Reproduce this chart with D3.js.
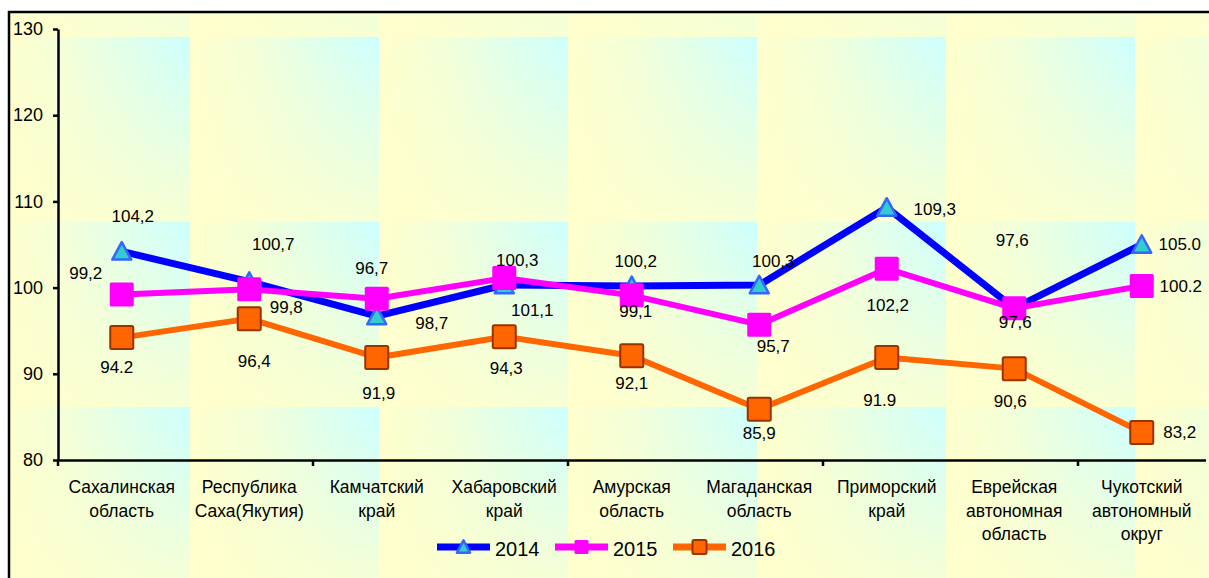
<!DOCTYPE html>
<html>
<head>
<meta charset="utf-8">
<script src="https://cdn.jsdelivr.net/npm/d3@7"></script>
<style>
    html, body { margin: 0; padding: 0; background: #fff; }
    svg { display: block; font-family: "Liberation Sans", Arial, sans-serif; }
</style>
</head>
<body>
<div id="chart"></div>
<script>
    // данные
    const categories = [
        'Сахалинская\nобласть',
        'Республика\nСаха(Якутия)',
        'Камчатский\nкрай',
        'Хабаровский\nкрай',
        'Амурская\nобласть',
        'Магаданская\nобласть',
        'Приморский\nкрай',
        'Еврейская\nавтономная\nобласть',
        'Чукотский\nавтономный\nокруг'
    ];
    const years = ['2014', '2015', '2016'];

    const values2014 = [104.2, 100.7, 96.7, 100.3, 100.2, 100.3, 109.3, 97.6, 105.0];
    const values2015 = [99.2, 99.8, 98.7, 101.1, 99.1, 95.7, 102.2, 97.6, 100.2];
    const values2016 = [94.2, 96.4, 91.9, 94.3, 92.1, 85.9, 91.9, 90.6, 83.2];

    const labels2014 = ['104,2', '100,7', '96,7', '100,3', '100,2', '100,3', '109,3', '97,6', '105.0'];
    const labels2015 = ['99,2', '99,8', '98,7', '101,1', '99,1', '95,7', '102,2', '97,6', '100.2'];
    const labels2016 = ['94.2', '96,4', '91,9', '94,3', '92,1', '85,9', '91.9', '90,6', '83,2'];

    const yTicks = [80, 90, 100, 110, 120, 130];

    // смещения подписей относительно точек
    const nudge2014 = [[11, -35], [24, -38], [-5, -48], [13, -25], [4, -25], [14, -24], [48, 2], [-2, -68], [38, 0]];
    const nudge2015 = [[-36, -21], [37, 18], [55, 24], [28, 32], [4, 16], [14, 21], [1, 36], [1, 14], [39, 0]];
    const nudge2016 = [[-5, 29], [5, 42], [2, 36], [2, 31], [0, 27], [0, 24], [-7, 43], [-4, 32], [38, 0]];

    const W = 1209, H = 578;
    const svg = d3.select('#chart').append('svg')
        .attr('width', W)
        .attr('height', H);

    // фон: плитка с градиентом
    const defs = svg.append('defs');
    const hg = defs.append('linearGradient').attr('id', 'hgrad')
        .attr('x1', 0).attr('y1', 0).attr('x2', 1).attr('y2', 0);
    hg.append('stop').attr('offset', 0).attr('stop-color', '#FFFFCC');
    hg.append('stop').attr('offset', 0.35).attr('stop-color', '#F2FFDA');
    hg.append('stop').attr('offset', 1).attr('stop-color', '#CCFFFF');
    const vg = defs.append('linearGradient').attr('id', 'vgrad')
        .attr('x1', 0).attr('y1', 0).attr('x2', 0).attr('y2', 1);
    vg.append('stop').attr('offset', 0).attr('stop-color', '#FFFFCC').attr('stop-opacity', 0);
    vg.append('stop').attr('offset', 1).attr('stop-color', '#FFFFCC').attr('stop-opacity', 0.85);

    const pat = defs.append('pattern').attr('id', 'tile')
        .attr('patternUnits', 'userSpaceOnUse')
        .attr('x', 1).attr('y', 37)
        .attr('width', 189).attr('height', 185);
    pat.append('rect').attr('width', 189).attr('height', 185).attr('fill', 'url(#hgrad)');
    pat.append('rect').attr('width', 189).attr('height', 185).attr('fill', 'url(#vgrad)');

    svg.append('rect')
        .attr('x', 9).attr('y', 12)
        .attr('width', W + 20).attr('height', H + 20)
        .attr('fill', 'url(#tile)')
        .attr('stroke', '#000')
        .attr('stroke-width', 2.5);

    // шкалы
    const x = d3.scaleBand().domain(categories).range([58, 1205.5]);
    const y = d3.scaleLinear().domain([80, 130]).range([460, 29]);
    const cx = d => x(d) + x.bandwidth() / 2;

    // ось Y
    const yAxis = svg.append('g')
        .attr('transform', 'translate(58,0)')
        .call(d3.axisLeft(y).tickValues(yTicks).tickSize(5).tickSizeOuter(0).tickPadding(10));
    yAxis.selectAll('path, line').attr('stroke', '#000').attr('stroke-width', 2.5);
    yAxis.selectAll('text').attr('font-size', 18).attr('fill', '#000')
        .attr('font-family', '"Liberation Sans", Arial, sans-serif');

    // ось X
    const xAxis = svg.append('g')
        .attr('transform', 'translate(0,460)')
        .call(d3.axisBottom(x).tickSize(0).tickSizeOuter(0).tickFormat(''));
    xAxis.select('.domain').attr('stroke', '#000').attr('stroke-width', 2.5);
    xAxis.selectAll('.tick').remove();

    svg.append('g').selectAll('line')
        .data(categories.filter((c, i) => i % 2 === 0))
        .enter().append('line')
        .attr('x1', d => x(d)).attr('x2', d => x(d))
        .attr('y1', 460).attr('y2', 466)
        .attr('stroke', '#000')
        .attr('stroke-width', 2.5);

    const catLabels = svg.append('g').selectAll('text')
        .data(categories)
        .enter().append('text')
        .attr('text-anchor', 'middle')
        .attr('font-size', 17.5)
        .attr('fill', '#000');
    catLabels.each(function(d) {
        const t = d3.select(this);
        d.split('\n').forEach((line, i) => {
            t.append('tspan')
                .attr('x', cx(d))
                .attr('y', 493 + i * 23.5)
                .text(line);
        });
    });

    // серии
    const series = [
        { name: years[0], values: values2014, labels: labels2014, nudge: nudge2014,
          color: '#0000FF', width: 7, marker: 'triangle', fill: '#33CCCC', stroke: '#3366FF', size: 19 },
        { name: years[1], values: values2015, labels: labels2015, nudge: nudge2015,
          color: '#FF00FF', width: 6, marker: 'square', fill: '#FF00FF', stroke: '#FF00FF', size: 24 },
        { name: years[2], values: values2016, labels: labels2016, nudge: nudge2016,
          color: '#FF6600', width: 6, marker: 'square', fill: '#FF6600', stroke: '#993300', size: 23 }
    ];

    const line = d3.line()
        .x((v, i) => cx(categories[i]))
        .y(v => y(v));

    function drawMarker(g, s, px, py, size) {
        if (s.marker === 'triangle') {
            const side = size;
            const h = side * Math.sqrt(3) / 2;
            g.append('path')
                .attr('d', `M${px},${py - h / 2 - 1}L${px + side / 2},${py + h / 2}L${px - side / 2},${py + h / 2}Z`)
                .attr('fill', s.fill)
                .attr('stroke', s.stroke)
                .attr('stroke-width', 2.5)
                .attr('stroke-linejoin', 'round');
        } else {
            g.append('rect')
                .attr('x', px - size / 2).attr('y', py - size / 2)
                .attr('width', size).attr('height', size)
                .attr('rx', 1.5)
                .attr('fill', s.fill)
                .attr('stroke', s.stroke)
                .attr('stroke-width', s.stroke === s.fill ? 0 : 2);
        }
    }

    series.forEach(s => {
        const g = svg.append('g').attr('class', 'series');
        g.append('path')
            .datum(s.values)
            .attr('d', line)
            .attr('fill', 'none')
            .attr('stroke', s.color)
            .attr('stroke-width', s.width)
            .attr('stroke-linejoin', 'round');
        s.values.forEach((v, i) => drawMarker(g, s, cx(categories[i]), y(v), s.size));
    });

    // подписи данных
    series.forEach(s => {
        svg.append('g').selectAll('text')
            .data(s.values)
            .enter().append('text')
            .attr('x', (v, i) => cx(categories[i]) + s.nudge[i][0])
            .attr('y', (v, i) => y(v) + s.nudge[i][1])
            .attr('dy', '0.35em')
            .attr('text-anchor', 'middle')
            .attr('font-size', 17)
            .attr('fill', '#000')
            .text((v, i) => s.labels[i]);
    });

    // легенда
    const legendX = [437, 555, 673];
    const legend = svg.append('g');
    series.forEach((s, i) => {
        const lx = legendX[i];
        legend.append('line')
            .attr('x1', lx).attr('x2', lx + 53)
            .attr('y1', 547).attr('y2', 547)
            .attr('stroke', s.color)
            .attr('stroke-width', 7);
        drawMarker(legend, s, lx + 26.5, 547, s.marker === 'triangle' ? 13 : 14);
        legend.append('text')
            .attr('x', lx + 58)
            .attr('y', 549)
            .attr('dy', '0.35em')
            .attr('font-size', 20)
            .attr('fill', '#000')
            .text(s.name);
    });
</script>
</body>
</html>
